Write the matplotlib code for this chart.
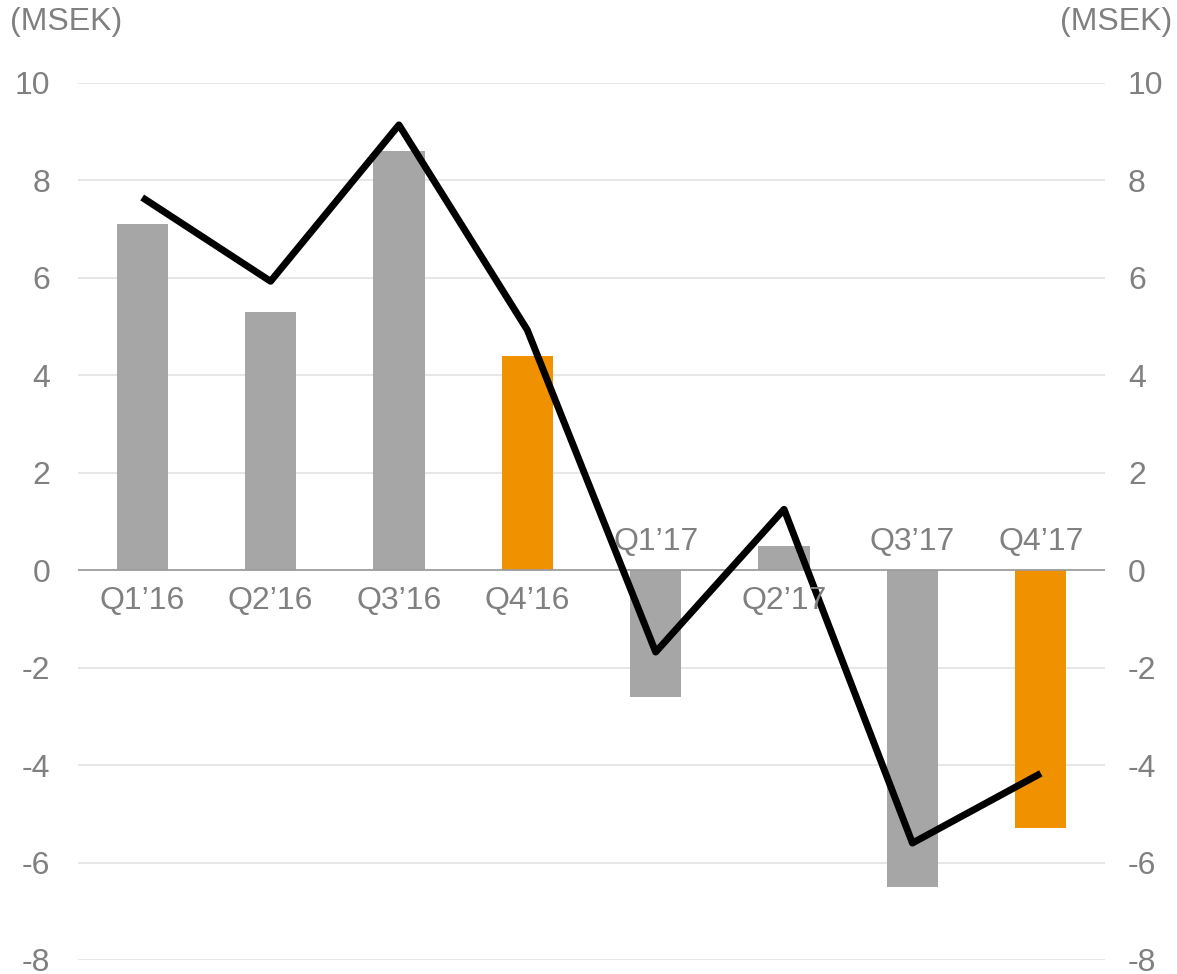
import matplotlib
matplotlib.use("Agg")
import matplotlib.pyplot as plt
import numpy as np

plt.rcParams['font.family'] = ['Liberation Sans', 'DejaVu Sans']

categories = ["Q1’16", "Q2’16", "Q3’16", "Q4’16", "Q1’17", "Q2’17", "Q3’17", "Q4’17"]
bar_values = [7.1, 5.3, 8.6, 4.4, -2.6, 0.5, -6.5, -5.3]
line_values = [7.65, 5.93, 9.14, 4.93, -1.68, 1.25, -5.6, -4.17]
highlight = ["Q4’16", "Q4’17"]
yticks = [-8, -6, -4, -2, 0, 2, 4, 6, 8, 10]

GRAY = "#a6a6a6"
ORANGE = "#f09100"
TXT = "#808080"
FS = 23

fig = plt.figure(figsize=(11.77, 9.74), dpi=100)
ax = fig.add_axes([0.0663, 0.0144, 0.8725, 0.9004])
x = np.arange(len(categories))
colors = [ORANGE if c in highlight else GRAY for c in categories]
ax.bar(x, bar_values, width=0.4, color=colors, zorder=2)
ax.plot(x, line_values, color="black", linewidth=5, zorder=3, solid_capstyle="butt")

ax.set_xlim(-0.5, len(categories) - 0.5)
ax.set_ylim(-8, 10)
ax.set_yticks(yticks)
ax.set_yticklabels([str(v) for v in yticks])
ax.grid(axis="y", color="#e3e3e3", linewidth=1.2, zorder=0)
ax.axhline(0, color="#9a9a9a", linewidth=1.2, zorder=2.5)
ax.set_xticks([])
for s in ax.spines.values():
    s.set_visible(False)
ax.tick_params(axis="y", length=0, pad=20, labelsize=FS, labelcolor=TXT)

ax2 = ax.twinx()
ax2.set_ylim(-8, 10)
ax2.set_yticks(yticks)
ax2.set_yticklabels([str(v) for v in yticks])
ax2.tick_params(axis="y", length=0, pad=16.5, labelsize=FS, labelcolor=TXT)
for s in ax2.spines.values():
    s.set_visible(False)

for i, (c, v) in enumerate(zip(categories, bar_values)):
    if v >= 0:
        ax.annotate(c, (i, 0), xytext=(0, -31), textcoords="offset pixels",
                    ha="center", va="center", fontsize=FS, color=TXT, zorder=4)
    else:
        ax.annotate(c, (i, 0), xytext=(0, 28), textcoords="offset pixels",
                    ha="center", va="center", fontsize=FS, color=TXT, zorder=4)

fig.text(10 / 1177, 1 - 22 / 974, "(MSEK)", ha="left", va="center", fontsize=FS, color=TXT)
fig.text(1172 / 1177, 1 - 22 / 974, "(MSEK)", ha="right", va="center", fontsize=FS, color=TXT)

fig.savefig("out.png", dpi=100)
